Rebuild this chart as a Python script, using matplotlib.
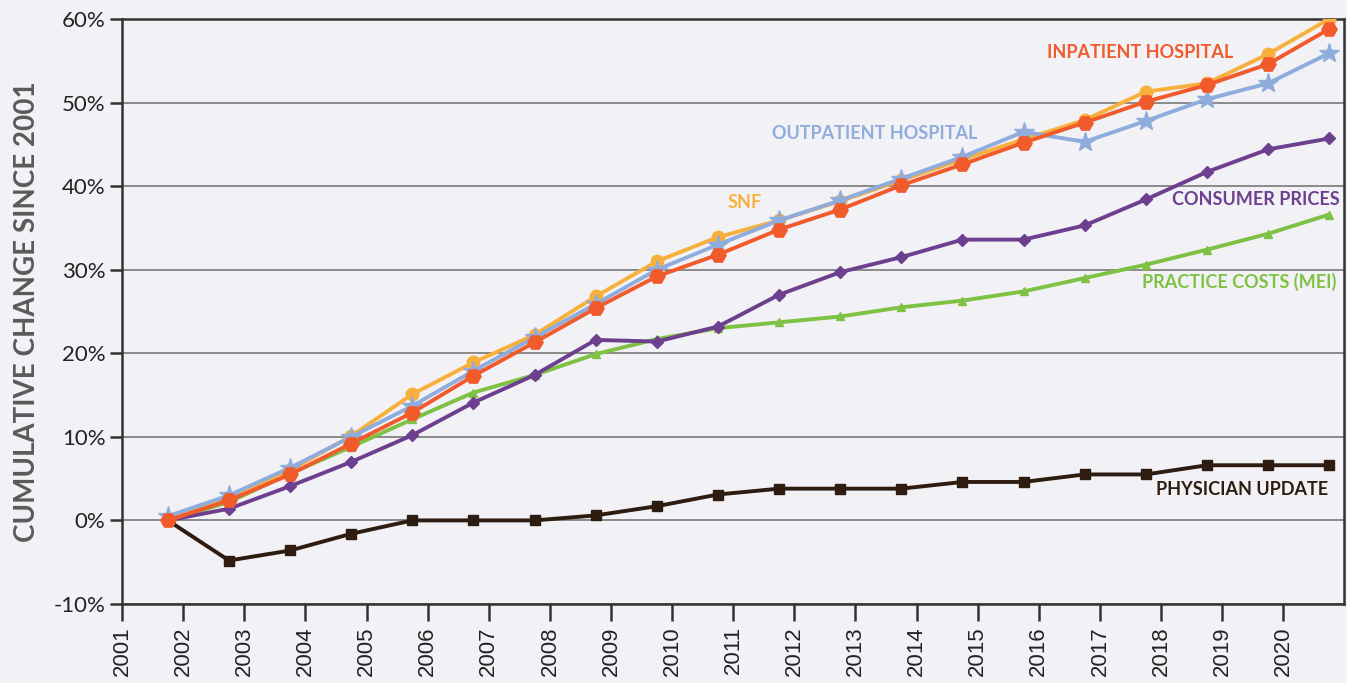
import matplotlib
matplotlib.use("Agg")
import matplotlib.pyplot as plt
import numpy as np

years = list(range(2001, 2021))
# data points sit late in each year
x_pos = [y + 0.75 for y in years]

physician = [0.0, -4.8, -3.6, -1.6, 0.0, 0.0, 0.0, 0.6, 1.7, 3.1, 3.8, 3.8, 3.8, 4.6, 4.6, 5.5, 5.5, 6.6, 6.6, 6.6]
practice = [0.0, 2.2, 5.6, 8.8, 12.1, 15.3, 17.4, 19.9, 21.7, 23.0, 23.7, 24.4, 25.5, 26.3, 27.4, 29.0, 30.6, 32.4, 34.3, 36.6]
consumer = [0.0, 1.4, 4.1, 7.0, 10.2, 14.1, 17.4, 21.6, 21.4, 23.2, 27.0, 29.7, 31.5, 33.6, 33.6, 35.3, 38.4, 41.7, 44.4, 45.7]
snf = [0.0, 2.7, 6.0, 10.1, 15.1, 18.9, 22.2, 26.8, 31.0, 33.9, 35.9, 38.2, 40.7, 43.2, 45.6, 47.9, 51.3, 52.3, 55.8, 60.0]
outpatient = [0.5, 3.0, 6.3, 10.0, 13.7, 17.9, 21.9, 25.9, 30.0, 33.0, 35.9, 38.3, 40.9, 43.5, 46.5, 45.3, 47.8, 50.4, 52.3, 55.9]
inpatient = [0.0, 2.4, 5.5, 9.2, 12.9, 17.3, 21.3, 25.4, 29.2, 31.8, 34.8, 37.2, 40.1, 42.6, 45.2, 47.6, 50.1, 52.1, 54.6, 58.8]

c_phys = "#2E1C10"
c_prac = "#7DC243"
c_cons = "#6D3F8F"
c_snf = "#F8B03C"
c_out = "#8EACDC"
c_inp = "#F15A2B"

bg = "#F2F1F6"
plt.rcParams['font.family'] = ['Lato', 'DejaVu Sans']

fig = plt.figure(figsize=(13.47, 6.83), dpi=100, facecolor=bg)
ax = fig.add_axes([0.0906, 0.1157, 0.9075, 0.8565])
ax.set_facecolor(bg)

ax.plot(x_pos, physician, color=c_phys, lw=2.8, marker='s', ms=7, zorder=3)
ax.plot(x_pos, practice, color=c_prac, lw=2.8, marker='^', ms=6, zorder=3)
ax.plot(x_pos, consumer, color=c_cons, lw=2.8, marker='D', ms=6.5, zorder=3)
ax.plot(x_pos, snf, color=c_snf, lw=2.8, marker='o', ms=9, zorder=4)
ax.plot(x_pos, outpatient, color=c_out, lw=2.8, marker='*', ms=15, zorder=5)
ax.plot(x_pos, inpatient, color=c_inp, lw=2.8, marker='H', ms=11, zorder=6)

ax.set_xlim(2001, 2021)
ax.set_ylim(-10, 60)
ax.set_xticks(years)
ax.set_xticklabels([str(y) for y in years], rotation=90, fontsize=16,
                   color="#222222", family=['Liberation Sans', 'DejaVu Sans'])
yt = list(range(-10, 61, 10))
ax.set_yticks(yt)
ax.set_yticklabels([f"{v}%" for v in yt], fontsize=16, color="#222222")
ax.tick_params(axis='x', direction='out', length=12, width=1.8, color="#333333", pad=4)
ax.tick_params(axis='y', direction='out', length=9, width=1.8, color="#333333", pad=3)

ax.grid(axis='y', color="#8A8A8A", lw=1.4, zorder=0)
ax.set_axisbelow(True)
for s in ax.spines.values():
    s.set_color("#333333")
    s.set_linewidth(1.8)

ax.set_ylabel("CUMULATIVE CHANGE SINCE 2001", fontsize=20, fontweight='bold',
              color="#5A5A5A", labelpad=10)

lbl = dict(fontsize=13, fontweight='bold', ha='center', va='center', zorder=7)
ax.text(2017.65, 56.0, "INPATIENT HOSPITAL", color=c_inp, **lbl)
ax.text(2013.32, 46.3, "OUTPATIENT HOSPITAL", color=c_out, **lbl)
ax.text(2011.19, 38.0, "SNF", color=c_snf, **lbl)
ax.text(2019.55, 38.4, "CONSUMER PRICES", color=c_cons, **lbl)
ax.text(2019.28, 28.5, "PRACTICE COSTS (MEI)", color=c_prac, **lbl)
ax.text(2019.32, 3.7, "PHYSICIAN UPDATE", color=c_phys, **lbl)

fig.savefig("out.png", dpi=100, facecolor=bg)
